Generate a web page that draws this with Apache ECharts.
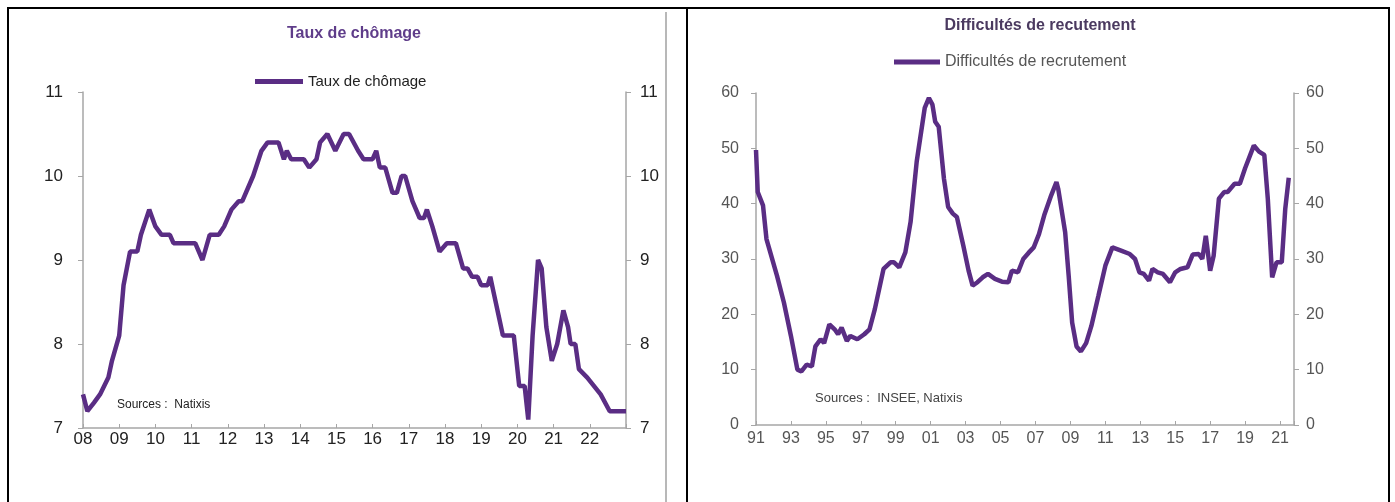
<!DOCTYPE html>
<html>
<head>
<meta charset="utf-8">
<script src="https://cdn.jsdelivr.net/npm/echarts@6/dist/echarts.min.js"></script>
<style>
html,body{margin:0;padding:0;background:#fff;}
#c{width:1395px;height:502px;}
</style>
</head>
<body>
<div id="c"></div>
<script>
// ---- Taux de chômage (%), France ----
const tcYears = [2008.0,2008.12,2008.3,2008.47,2008.7,2008.8,2009.0,2009.12,2009.3,2009.5,2009.6,2009.83,
  2010.0,2010.17,2010.4,2010.5,2011.1,2011.3,2011.5,2011.75,2011.9,2012.1,2012.3,2012.4,2012.7,2012.93,
  2013.1,2013.4,2013.55,2013.63,2013.75,2014.1,2014.25,2014.45,2014.55,2014.75,2014.97,2015.2,2015.35,
  2015.6,2015.75,2016.0,2016.1,2016.2,2016.35,2016.55,2016.67,2016.8,2016.9,2017.1,2017.3,2017.42,2017.5,
  2017.65,2017.85,2018.05,2018.3,2018.5,2018.62,2018.75,2018.9,2019.0,2019.18,2019.25,2019.35,2019.5,
  2019.6,2019.9,2020.05,2020.2,2020.3,2020.42,2020.57,2020.67,2020.8,2020.95,2021.1,2021.27,2021.4,
  2021.47,2021.6,2021.7,2021.93,2022.3,2022.55,2023.0];
const tcValues = [7.4,7.2,7.3,7.4,7.6,7.8,8.1,8.7,9.1,9.1,9.3,9.6,
  9.4,9.3,9.3,9.2,9.2,9.0,9.3,9.3,9.4,9.6,9.7,9.7,10.0,10.3,
  10.4,10.4,10.2,10.3,10.2,10.2,10.1,10.2,10.4,10.5,10.3,10.5,10.5,
  10.3,10.2,10.2,10.3,10.1,10.1,9.8,9.8,10.0,10.0,9.7,9.5,9.5,9.6,
  9.4,9.1,9.2,9.2,8.9,8.9,8.8,8.8,8.7,8.7,8.8,8.6,8.3,
  8.1,8.1,7.5,7.5,7.1,8.1,9.0,8.9,8.2,7.8,8.0,8.4,8.2,
  8.0,8.0,7.7,7.6,7.4,7.2,7.2];
const tcXTicks = ['08','09','10','11','12','13','14','15','16','17','18','19','20','21','22'];

// ---- Difficultés de recrutement (%) ----
const drYears = [1991.0,1991.1,1991.4,1991.6,1992.2,1992.6,1993.0,1993.37,1993.6,1993.9,1994.2,1994.4,1994.7,
  1994.9,1995.2,1995.5,1995.7,1995.9,1996.2,1996.4,1996.8,1997.2,1997.5,1997.8,1998.3,1998.7,1998.9,
  1999.2,1999.55,1999.85,2000.2,2000.66,2000.9,2001.1,2001.26,2001.46,2001.76,2002.0,2002.27,2002.5,
  2002.87,2003.17,2003.4,2003.68,2003.98,2004.28,2004.68,2005.08,2005.45,2005.65,2006.0,2006.3,2006.6,
  2006.9,2007.2,2007.5,2007.9,2008.2,2008.3,2008.7,2008.9,2009.1,2009.35,2009.6,2009.9,2010.2,2010.6,
  2011.0,2011.4,2011.9,2012.4,2012.7,2012.95,2013.2,2013.5,2013.7,2014.0,2014.3,2014.7,2015.0,2015.3,
  2015.7,2016.0,2016.35,2016.55,2016.75,2017.0,2017.2,2017.5,2017.8,2018.0,2018.4,2018.7,2019.0,2019.5,
  2019.8,2020.1,2020.3,2020.55,2020.8,2021.1,2021.3,2021.5];
const drValues = [49.7,42.1,39.7,33.6,27,22.1,16.1,10,9.7,10.9,10.6,14.2,15.5,
  14.8,18.2,17.3,16.4,17.6,15.2,16.1,15.5,16.4,17.3,20.9,28.2,29.4,29.4,
  28.5,31.2,36.7,47.6,57.3,59.1,57.9,54.8,53.9,44.5,39.4,38.2,37.6,
  32.4,27.9,25.2,25.8,26.7,27.3,26.4,25.9,25.8,27.9,27.6,30,31.1,
  32.1,34.5,37.9,41.5,43.9,42.7,34.8,27,18.5,14.2,13.3,14.8,17.9,23.3,
  28.8,32.1,31.5,30.9,30,27.6,27.3,26.1,28.2,27.6,27.3,25.8,27.6,28.2,
  28.5,30.8,30.9,30,34.2,27.9,30.6,40.9,42.1,42.1,43.6,43.6,46.4,50.5,
  49.4,48.8,40.9,26.7,29.4,29.4,39.1,44.7];
const drXTicks = ['91','93','95','97','99','01','03','05','07','09','11','13','15','17','19','21'];

const DR_BASE = 1991;
const lineColor = '#5a2d84';
const tcData = tcYears.map((y, i) => [y, tcValues[i]]);
const drData = drYears.map((y, i) => [y - DR_BASE, drValues[i]]);

const axisGray = '#a6a6a6';
const font = 'Liberation Sans, Arial, sans-serif';

const chart = echarts.init(document.getElementById('c'), null, {renderer: 'canvas'});
chart.setOption({
  backgroundColor: '#ffffff',
  animation: false,
  title: [
    {text: 'Taux de chômage', left: 349, top: 21, textAlign: 'center',
     textStyle: {fontFamily: font, fontSize: 16, fontWeight: 'bold', color: '#5f3d8a'}},
    {text: 'Difficultés de recutement', left: 1035, top: 13, textAlign: 'center',
     textStyle: {fontFamily: font, fontSize: 16, fontWeight: 'bold', color: '#4b3a60'}}
  ],
  legend: [
    {data: ['Taux de chômage'], left: 250, top: 69, itemWidth: 48, itemHeight: 5, icon: 'rect',
     textStyle: {fontFamily: font, fontSize: 15, color: '#222'}},
    {data: ['Difficultés de recrutement'], left: 889, top: 49, itemWidth: 46, itemHeight: 5, icon: 'rect',
     textStyle: {fontFamily: font, fontSize: 16, color: '#555'}}
  ],
  grid: [
    {left: 83, right: 1395 - 626, top: 92, bottom: 502 - 428},
    {left: 756, right: 1395 - 1294, top: 93, bottom: 502 - 425}
  ],
  xAxis: [
    {type: 'value', gridIndex: 0, min: 2008, max: 2023, interval: 1,
     axisLine: {lineStyle: {color: axisGray, width: 1.5}},
     axisTick: {inside: true, length: 4, lineStyle: {color: axisGray}},
     splitLine: {show: false},
     axisLabel: {fontFamily: font, fontSize: 17, color: '#222', margin: 3,
       formatter: v => { const i = Math.round(v - 2008); return (Math.abs(v - 2008 - i) < 1e-6 && i < tcXTicks.length) ? tcXTicks[i] : ''; }}},
    {type: 'value', gridIndex: 1, min: 0, max: 30.8, interval: 2,
     axisLine: {lineStyle: {color: axisGray, width: 1.5}},
     axisTick: {inside: true, length: 4, lineStyle: {color: axisGray}},
     splitLine: {show: false},
     axisLabel: {fontFamily: font, fontSize: 16, color: '#555', margin: 6,
       formatter: v => { const i = Math.round(v / 2); return (Math.abs(v - 2 * i) < 1e-6 && i < drXTicks.length) ? drXTicks[i] : ''; }}}
  ],
  yAxis: [
    {type: 'value', gridIndex: 0, min: 7, max: 11, interval: 1, position: 'left',
     axisLine: {show: true, lineStyle: {color: axisGray, width: 1.5}},
     axisTick: {show: true, length: 5, lineStyle: {color: axisGray}},
     splitLine: {show: false},
     axisLabel: {fontFamily: font, fontSize: 17, color: '#222', margin: 20}},
    {type: 'value', gridIndex: 0, min: 7, max: 11, interval: 1, position: 'right',
     axisLine: {show: true, lineStyle: {color: axisGray, width: 1.5}},
     axisTick: {show: true, length: 5, lineStyle: {color: axisGray}},
     splitLine: {show: false},
     axisLabel: {fontFamily: font, fontSize: 17, color: '#222', margin: 14}},
    {type: 'value', gridIndex: 1, min: 0, max: 60, interval: 10, position: 'left',
     axisLine: {show: true, lineStyle: {color: axisGray, width: 1.5}},
     axisTick: {show: true, length: 5, lineStyle: {color: axisGray}},
     splitLine: {show: false},
     axisLabel: {fontFamily: font, fontSize: 16, color: '#555', margin: 17}},
    {type: 'value', gridIndex: 1, min: 0, max: 60, interval: 10, position: 'right',
     axisLine: {show: true, lineStyle: {color: axisGray, width: 1.5}},
     axisTick: {show: true, length: 5, lineStyle: {color: axisGray}},
     splitLine: {show: false},
     axisLabel: {fontFamily: font, fontSize: 16, color: '#555', margin: 12}}
  ],
  series: [
    {name: 'Taux de chômage', type: 'line', xAxisIndex: 0, yAxisIndex: 0, data: tcData,
     showSymbol: false, symbol: 'none', lineStyle: {color: lineColor, width: 4.5}, itemStyle: {color: lineColor}},
    {name: 'Difficultés de recrutement', type: 'line', xAxisIndex: 1, yAxisIndex: 2, data: drData,
     showSymbol: false, symbol: 'none', lineStyle: {color: lineColor, width: 4.5}, itemStyle: {color: lineColor}}
  ],
  graphic: [
    {type: 'text', left: 117, top: 399, style: {text: 'Sources :  Natixis', font: '12px ' + font, fill: '#222'}},
    {type: 'text', left: 815, top: 392, style: {text: 'Sources :  INSEE, Natixis', font: '13px ' + font, fill: '#444'}},
    {type: 'line', shape: {x1: 7, y1: 8, x2: 1390, y2: 8}, style: {stroke: '#000', lineWidth: 2}},
    {type: 'line', shape: {x1: 8, y1: 7, x2: 8, y2: 502}, style: {stroke: '#000', lineWidth: 2}},
    {type: 'line', shape: {x1: 687, y1: 7, x2: 687, y2: 502}, style: {stroke: '#000', lineWidth: 2}},
    {type: 'line', shape: {x1: 1389, y1: 7, x2: 1389, y2: 502}, style: {stroke: '#000', lineWidth: 2}},
    {type: 'line', shape: {x1: 666, y1: 12, x2: 666, y2: 502}, style: {stroke: '#b8b8b8', lineWidth: 2}}
  ]
});
</script>
</body>
</html>
